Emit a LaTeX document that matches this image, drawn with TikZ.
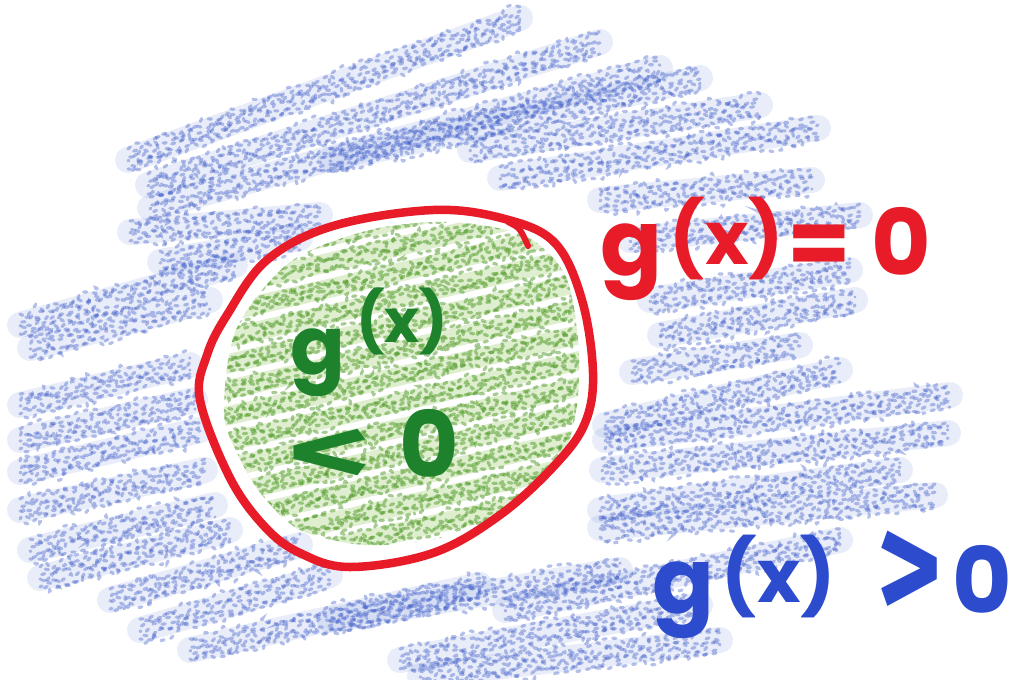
\documentclass[tikz,border=0pt]{standalone}
\usepackage{fontspec}
\setmainfont{Poppins}
\newfontfamily\symfont{Fira Sans}
\usetikzlibrary{decorations.pathmorphing}
\definecolor{crayB}{RGB}{110,140,220}
\definecolor{crayBd}{RGB}{60,90,200}
\definecolor{crayG}{RGB}{140,195,80}
\definecolor{crayGd}{RGB}{80,155,40}
\definecolor{penR}{RGB}{232,28,40}
\definecolor{penB}{RGB}{45,75,205}
\definecolor{penG}{RGB}{30,130,45}
\tikzset{
  bband/.style={line width=0.26cm, line cap=round, draw=crayB, opacity=0.15},
  btex/.style={line width=0.9pt, draw=crayBd, opacity=0.38, line cap=round,
    dash pattern=on 0.9pt off 1.9pt, decorate,
    decoration={random steps, segment length=2pt, amplitude=1.5pt}},
  gband/.style={line width=0.19cm, line cap=round, draw=crayG, opacity=0.28},
  gtex/.style={line width=0.9pt, draw=crayGd, opacity=0.5, line cap=round,
    dash pattern=on 1pt off 1.6pt, decorate,
    decoration={random steps, segment length=2pt, amplitude=1.5pt}},
  hand/.style={inner sep=0pt, font=\fontsize{26}{30}\selectfont\bfseries},
  redline/.style={draw=penR, line width=0.085cm, line cap=round, line join=round},
}
\newcommand\bstroke[2]{%
  \draw[bband] #1 -- #2;
  \foreach \o/\p in {-11/0,-7/1.1,-3/2.3,1/0.6,5/1.7,9/0.3,12/1.4}{\draw[btex, shift={(0,\o)}, dash phase=\p pt] #1 -- #2;}
}
\newcommand\gstroke[2]{%
  \draw[gband] #1 -- #2;
  \foreach \o/\p in {-8/0,-4/1.1,0/2.3,4/0.6,8/1.7}{\draw[gtex, shift={(0,\o)}, dash phase=\p pt] #1 -- #2;}
}
\newcommand\smallpar[2]{\raisebox{#2}{\fontsize{#1}{#1}\selectfont(x)}}
\begin{document}
\begin{tikzpicture}[x=0.01cm,y=-0.01cm]
\pgfmathsetseed{4242}
\useasboundingbox[fill=white] (0,0) rectangle (1010,679);
% ---------- blue crayon region g(x)>0 ----------
% top cluster
\bstroke{(128,160)}{(520,18)}
\bstroke{(148,185)}{(600,42)}
\bstroke{(150,208)}{(660,68)}
\bstroke{(130,232)}{(320,215)}
\bstroke{(330,160)}{(700,78)}
\bstroke{(160,262)}{(300,238)}
\bstroke{(470,150)}{(760,105)}
\bstroke{(500,178)}{(818,128)}
\bstroke{(600,200)}{(812,180)}
% right of circle, near g(x)=0
\bstroke{(630,240)}{(860,215)}
\bstroke{(650,300)}{(850,270)}
\bstroke{(660,335)}{(855,300)}
% left side
\bstroke{(20,325)}{(235,265)}
\bstroke{(30,348)}{(210,300)}
\bstroke{(20,405)}{(190,365)}
\bstroke{(20,440)}{(195,400)}
\bstroke{(20,472)}{(200,430)}
\bstroke{(20,510)}{(205,470)}
\bstroke{(30,550)}{(215,505)}
\bstroke{(40,578)}{(230,530)}
% bottom
\bstroke{(110,600)}{(300,545)}
\bstroke{(140,630)}{(330,575)}
\bstroke{(190,650)}{(480,585)}
\bstroke{(330,620)}{(620,570)}
\bstroke{(400,660)}{(700,605)}
\bstroke{(420,676)}{(720,640)}
\bstroke{(505,610)}{(840,540)}
% right middle
\bstroke{(632,372)}{(800,345)}
\bstroke{(605,425)}{(840,370)}
\bstroke{(605,440)}{(950,395)}
\bstroke{(602,470)}{(948,433)}
\bstroke{(600,510)}{(900,470)}
\bstroke{(600,528)}{(935,495)}
% ---------- green crayon region g(x)<0 ----------
\begin{scope}
\clip plot[smooth cycle] coordinates {(224,412) (236,330) (290,262) (370,230) (450,222) (525,236) (565,275) (578,340) (577,405) (560,462) (510,510) (440,538) (365,545) (300,530) (262,495) (238,455)};
\foreach \y in {220,246,...,620}{\gstroke{(205,\y+45)}{(595,\y-45)}}
\end{scope}
% ---------- red boundary g(x)=0 ----------
\draw[redline] plot[smooth cycle, tension=0.6] coordinates {(200,400) (207,355) (227,315) (267,260) (333,226) (433,210) (505,219) (555,243) (582,300) (593,373) (585,423) (555,465) (500,515) (433,553) (350,567) (300,553) (265,527) (230,478)};
\draw[redline, line width=0.06cm] (508,222) .. controls (520,228) .. (528,246);
% ---------- labels ----------
\node[hand, text=penR, anchor=base west] (eq) at (600,275)
  {g\kern2pt\smallpar{21}{3pt}\kern1pt=\kern6pt0};
\node[hand, text=penB, anchor=base west] (gt) at (652,613)
  {g\kern2pt\smallpar{21}{3pt}\kern12pt\raisebox{-2pt}{\scalebox{1.35}[1.7]{\symfont >}}\kern3pt0};
\node[hand, text=penG, anchor=base west, font=\fontsize{23}{27}\selectfont\bfseries] (g1) at (290,374)
  {g\kern3pt\smallpar{17}{9pt}};
\node[hand, text=penG, anchor=base west] (g2) at (288,477)
  {\raisebox{-2pt}{\scalebox{1.75}[1.05]{\symfont <}}\kern8pt0};
\end{tikzpicture}
\end{document}
